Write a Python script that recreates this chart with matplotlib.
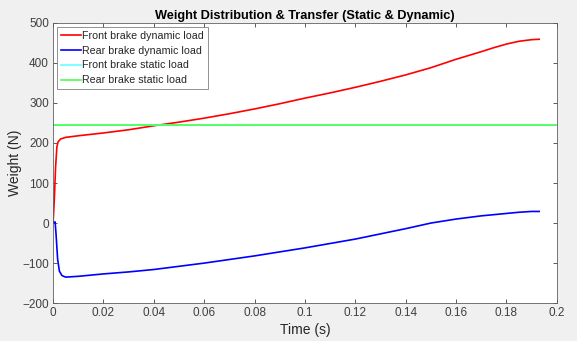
import matplotlib
matplotlib.use("Agg")
import matplotlib.pyplot as plt

# values
t_front = [0, 0.0005, 0.001, 0.0015, 0.002, 0.003, 0.005, 0.01, 0.02, 0.03, 0.04,
           0.05, 0.06, 0.07, 0.08, 0.09, 0.1, 0.11, 0.12, 0.13, 0.14, 0.15,
           0.16, 0.17, 0.175, 0.18, 0.185, 0.19, 0.193]
front_dyn = [0, 60, 140, 190, 203, 210, 214, 218, 225, 233, 243,
             252, 262, 273, 285, 298, 312, 325, 339, 354, 370, 388,
             409, 428, 438, 447, 454, 458, 459]

t_rear = [0, 0.0008, 0.0012, 0.0018, 0.0025, 0.0035, 0.005, 0.01, 0.02, 0.03, 0.04,
          0.05, 0.06, 0.07, 0.08, 0.09, 0.1, 0.11, 0.12, 0.13, 0.14, 0.15,
          0.16, 0.17, 0.18, 0.185, 0.19, 0.193]
rear_dyn = [0, 3, -30, -90, -120, -131, -135, -133, -127, -122, -116,
            -108, -100, -91, -82, -72, -62, -51, -40, -27, -14, 0,
            10, 18, 24, 27, 29, 29]

static_load = 245.0
t_static = [0, 0.2]

plt.rcParams["font.family"] = ["Liberation Sans", "DejaVu Sans"]

fig = plt.figure(figsize=(5.77, 3.41), dpi=100, facecolor="#f0f0f0")
ax = fig.add_axes([0.092, 0.111, 0.873, 0.822])
ax.set_facecolor("white")

ax.plot(t_front, front_dyn, color="#ff0000", lw=1.2, label="Front brake dynamic load")
ax.plot(t_rear, rear_dyn, color="#0000ff", lw=1.2, label="Rear brake dynamic load")
ax.plot(t_static, [static_load] * 2, color="#66ffff", lw=1.2, label="Front brake static load")
ax.plot(t_static, [static_load] * 2, color="#4dff4d", lw=1.2, label="Rear brake static load")

ax.set_xlim(0, 0.2)
ax.set_ylim(-200, 500)
ax.set_xticks([0, 0.02, 0.04, 0.06, 0.08, 0.1, 0.12, 0.14, 0.16, 0.18, 0.2])
ax.set_xticklabels(["0", "0.02", "0.04", "0.06", "0.08", "0.1", "0.12", "0.14", "0.16", "0.18", "0.2"])
ax.set_yticks(range(-200, 501, 100))
ax.tick_params(direction="in", top=True, right=True, length=3, width=0.6,
               colors="#404040", labelsize=8.5, pad=3)
for s in ax.spines.values():
    s.set_color("#606060")
    s.set_linewidth(0.6)

ax.set_xlabel("Time (s)", fontsize=10, color="#262626", labelpad=3)
ax.set_ylabel("Weight (N)", fontsize=10, color="#262626", labelpad=0)
ax.set_title("Weight Distribution & Transfer (Static & Dynamic)",
             fontsize=9.2, fontweight="bold", color="black", pad=3)

leg = ax.legend(loc="upper left", fontsize=7.7, frameon=True, fancybox=False,
                handlelength=1.9, handletextpad=0.1, borderpad=0.35,
                labelspacing=0.45, borderaxespad=0.4)
leg.get_frame().set_edgecolor("#606060")
leg.get_frame().set_linewidth(0.6)
for txt in leg.get_texts():
    txt.set_color("#262626")

fig.savefig("out.png", dpi=100, facecolor=fig.get_facecolor())
